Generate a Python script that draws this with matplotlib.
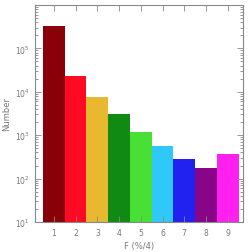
import matplotlib
matplotlib.use("Agg")
import matplotlib.pyplot as plt
from matplotlib.ticker import LogLocator, NullFormatter

categories = [1, 2, 3, 4, 5, 6, 7, 8, 9]
counts = [320000, 23000, 7700, 3100, 1200, 560, 270, 165, 350]
colors = ["#8a0008", "#ff0a24", "#e8b830", "#118a14", "#48e034",
          "#30c8f8", "#2222f0", "#880488", "#ff20f0"]
ytick_vals = [10, 100, 1000, 10000, 100000]

fig = plt.figure(figsize=(2.49, 2.53), dpi=100)
ax = fig.add_axes([0.1406, 0.1186, 0.835, 0.8577])

ax.bar(categories, counts, width=1.0, color=colors, bottom=10)
ax.set_yscale("log")
ax.set_ylim(10, 1e6)
ax.set_xlim(0.13, 9.7)
ax.set_xticks(categories)
ax.set_yticks(ytick_vals)
ax.yaxis.set_minor_locator(LogLocator(base=10, subs=range(2, 10), numticks=20))
ax.yaxis.set_minor_formatter(NullFormatter())

axis_col = "#888888"
for s in ax.spines.values():
    s.set_color(axis_col)
    s.set_linewidth(0.8)
ax.tick_params(which="both", direction="in", top=True, right=True,
               color=axis_col, labelsize=5.5, labelcolor="#777777", width=0.6)
ax.tick_params(which="major", length=4, pad=4)
ax.tick_params(which="minor", length=2)

ax.set_xlabel("F (%/4)", fontsize=6, color="#777777", labelpad=3)
ax.set_ylabel("Number", fontsize=6, color="#777777")
ax.yaxis.set_label_coords(-0.115, 0.5)

fig.savefig("out.png", dpi=100)
